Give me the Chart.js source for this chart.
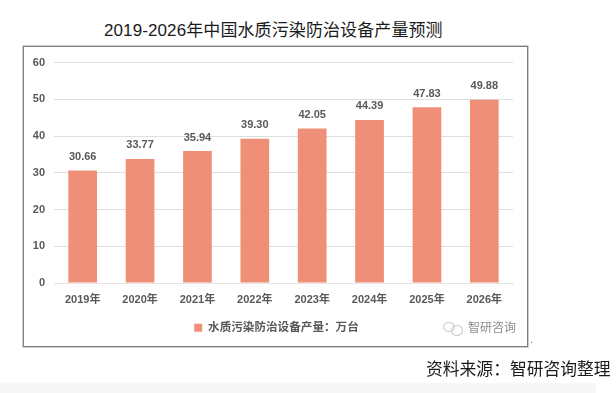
<!DOCTYPE html>
<html>
<head>
<meta charset="utf-8">
<script src="https://cdn.jsdelivr.net/npm/chart.js@4"></script>
<style>
    html, body { margin: 0; padding: 0; background: #fff; overflow: hidden; }
    body { width: 616px; height: 393px; position: relative; font-family: "Liberation Sans", "Noto Sans CJK SC", sans-serif; }
    .txt { position: absolute; white-space: nowrap; color: #1a1a1a; }
    #title { left: 104px; top: 21px; font-size: 17px; line-height: 20px; letter-spacing: .1px; }
    #source { left: 426px; top: 360px; font-size: 16.8px; line-height: 20px; }
    #box { position: absolute; left: 23px; top: 46px; width: 503px; height: 299px; border: 1px solid #7f7f7f; box-shadow: 0 0 0 .5px #9a9a9a; }
    #mark { left: 468px; top: 319px; font-size: 12px; line-height: 16px; color: #8c8c8c; font-family: "Noto Sans CJK SC"; }
    .bubble { position: absolute; border: 1px solid #c9c9c9; border-radius: 50%; }
    #dot { left: 530px; top: 334px; font-size: 10px; line-height: 12px; color: #666; }
    #strip { position: absolute; left: 0; top: 383px; width: 596px; height: 10px; background: #f7f7f7; }
</style>
</head>
<body>
<div id="title" class="txt">2019-2026年中国水质污染防治设备产量预测</div>
<div id="box"><canvas id="myChart" width="503" height="299"></canvas></div>
<div class="bubble" style="left:443px;top:322px;width:10px;height:8px"></div>
<div class="bubble" style="left:451px;top:325px;width:10px;height:9px"></div>
<div id="mark" class="txt">智研咨询</div>
<div id="dot" class="txt">.</div>
<div id="source" class="txt">资料来源：智研咨询整理</div>
<div id="strip"></div>
<script>
    const years = ['2019年', '2020年', '2021年', '2022年', '2023年', '2024年', '2025年', '2026年'];
    const output = [30.66, 33.77, 35.94, 39.30, 42.05, 44.39, 47.83, 49.88];
    const yTicks = [0, 10, 20, 30, 40, 50, 60];
    const seriesName = '水质污染防治设备产量：万台';

    const textColor = '#595959';
    const labelFont = '"Liberation Sans", "Noto Sans CJK SC", sans-serif';

    // value labels above the bars
    const barLabels = {
        id: 'barLabels',
        afterDatasetsDraw(chart){
            const c = chart.ctx;
            c.save();
            c.font = '600 11px ' + labelFont;
            c.fillStyle = textColor;
            c.textAlign = 'center';
            c.textBaseline = 'bottom';
            chart.getDatasetMeta(0).data.forEach(function(bar, i){
                c.fillText(output[i].toFixed(2), bar.x, bar.y - 8);
            });
            c.restore();
        }
    };

    // the legend sits a little right of the centre in the original
    const legendShift = {
        id: 'legendShift',
        afterLayout(chart){
            chart.legend.left += 8;
            chart.legend.right += 8;
            chart.legend.top -= 1.5;
        }
    };

    const ctx = document.getElementById('myChart').getContext('2d');
    const chart = new Chart(ctx, {
        type: 'bar',
        data: {
            labels: years,
            datasets: [{
                label: seriesName,
                backgroundColor: '#ef8f78',
                data: output,
                barPercentage: 0.5,
                categoryPercentage: 1
            }]
        },
        options: {
            responsive: false,
            animation: false,
            layout: { padding: { top: 10, right: 14, left: 0, bottom: 1 } },
            plugins: {
                tooltip: { enabled: false },
                legend: {
                    position: 'bottom',
                    labels: {
                        boxWidth: 8,
                        boxHeight: 8,
                        padding: 15.2,
                        color: textColor,
                        font: { family: labelFont, size: 11.6, weight: '600' }
                    }
                }
            },
            scales: {
                x: {
                    grid: { display: false },
                    border: { color: '#e4e4e4' },
                    ticks: {
                        color: textColor,
                        padding: 2,
                        maxRotation: 0,
                        font: { family: labelFont, size: 11, weight: '600' }
                    }
                },
                y: {
                    min: 0,
                    max: 60,
                    afterFit(scale){ scale.width = 30; },
                    afterBuildTicks(scale){ scale.ticks = yTicks.map(function(v){ return { value: v }; }); },
                    grid: { color: '#dedede', drawTicks: false },
                    border: { display: false },
                    ticks: {
                        color: textColor,
                        padding: 9,
                        font: { family: labelFont, size: 11, weight: '600' }
                    }
                }
            }
        },
        plugins: [barLabels, legendShift]
    });
</script>
</body>
</html>
